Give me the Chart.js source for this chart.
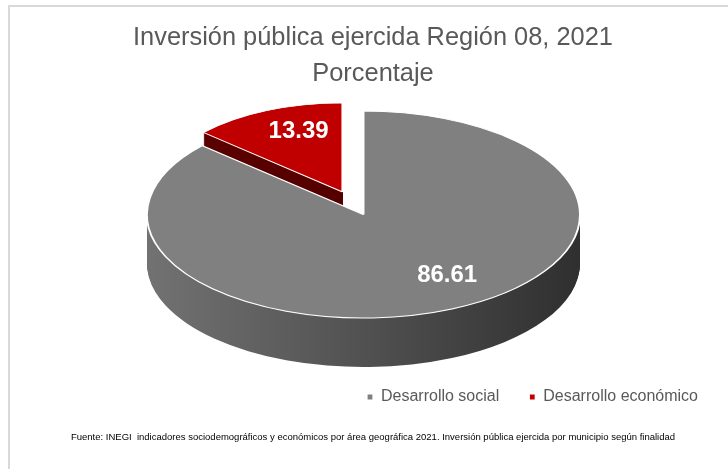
<!DOCTYPE html>
<html>
<head>
<meta charset="utf-8">
<script src="https://cdn.jsdelivr.net/npm/chart.js@4.4.1/dist/chart.umd.min.js"></script>
<style>
  html, body { margin: 0; padding: 0; background: #ffffff; }
  #wrap { width: 728px; height: 469px; position: relative; }
</style>
</head>
<body>
<div id="wrap"><canvas id="c" width="728" height="469"></canvas></div>
<script>
// ---- data ----
const categories = ['Desarrollo social', 'Desarrollo económico'];
const shares = [86.61, 13.39];
const shareLabels = ['86.61', '13.39'];
const explodeFractions = [0, 0.24];
const titleLines = ['Inversión pública ejercida Región 08, 2021', 'Porcentaje'];
const sourceNote = 'Fuente: INEGI  indicadores sociodemográficos y económicos por área geográfica 2021. Inversión pública ejercida por municipio según finalidad';

// ---- styles ----
const TOP_COLORS = ['#808080', '#c00000'];
const SIDE_COLORS = [['#727272', '#515151', '#2f2f2f'], ['#5e0000', '#4a0000']];
const ELLIPSE_RX = 216.5, ELLIPSE_RY = 103.5, DEPTH = 49;
const SHIFT_X = -9.5, SHIFT_Y = -11;
const BACK_PERSPECTIVE = 0.86; // exploded (back) slice looks smaller in perspective
const LABEL_FX = 0.72, LABEL_FY = 0.64, LABEL_DX = 20;
const FONT = '"Liberation Sans", Arial, sans-serif';

const frame = {
  id: 'frame',
  beforeDraw(chart) {
    const ctx = chart.ctx;
    ctx.save();
    ctx.strokeStyle = '#d9d9d9';
    ctx.lineWidth = 2;
    ctx.strokeRect(9, 6, chart.width + 20, chart.height + 20);
    ctx.restore();
  }
};

const pie3d = {
  id: 'pie3d',
  beforeDatasetsDraw(chart) {
    const meta = chart.getDatasetMeta(0);
    const arcs = meta.data;
    if (!arcs.length) return false;
    const ctx = chart.ctx;
    const ds = chart.data.datasets[0];
    const ex = arcs[0].x, ey = arcs[0].y, R = arcs[0].outerRadius;
    const sx = ELLIPSE_RX / R, sy = ELLIPSE_RY / R;
    const cx = ex + SHIFT_X, cy = ey + SHIFT_Y;
    const mid = a => (a.startAngle + a.endAngle) / 2;
    const place = (i, dy) => {
      ctx.setTransform(sx, 0, 0, sy, cx - ex * sx, cy + dy - ey * sy);
      const e = ds.explode[i] || 0;
      const d = e * R;
      const m = mid(arcs[i]);
      ctx.translate(Math.cos(m) * d, Math.sin(m) * d);
      if (e > 0) {
        ctx.translate(ex, ey);
        ctx.scale(BACK_PERSPECTIVE, BACK_PERSPECTIVE);
        ctx.translate(-ex, -ey);
      }
    };
    const drawWith = (arc, opts) => {
      const w = Object.create(arc);
      w.options = Object.assign({}, arc.options, opts);
      arc.draw.call(w, ctx);
    };
    // back (exploded) slice first, then front slice
    const order = arcs.map((a, i) => i).sort((a, b) => (ds.explode[b] || 0) - (ds.explode[a] || 0));
    ctx.save();
    for (const i of order) {
      const stops = SIDE_COLORS[i];
      const g = ctx.createLinearGradient(ex - R, 0, ex + R, 0);
      stops.forEach((c, k) => g.addColorStop(k / (stops.length - 1), c));
      for (let d = DEPTH; d >= 1; d--) {
        ctx.save();
        place(i, d);
        drawWith(arcs[i], { backgroundColor: g, borderWidth: 0 });
        ctx.restore();
      }
    }
    for (const i of order) {
      ctx.save();
      place(i, 0);
      drawWith(arcs[i], {});
      ctx.restore();
    }
    ctx.restore();

    // value labels
    ctx.save();
    ctx.setTransform(1, 0, 0, 1, 0, 0);
    ctx.font = 'bold 24px ' + FONT;
    ctx.fillStyle = '#ffffff';
    ctx.textAlign = 'center';
    ctx.textBaseline = 'middle';
    arcs.forEach((a, i) => {
      const m = mid(a);
      const d = (ds.explode[i] || 0) * R;
      const px = Math.cos(m) * (d + LABEL_FX * R);
      const py = Math.sin(m) * (d + LABEL_FY * R);
      ctx.fillText(shareLabels[i], cx + px * sx + LABEL_DX, cy + py * sy);
    });
    ctx.restore();
    return false;
  }
};

new Chart(document.getElementById('c'), {
  type: 'pie',
  data: {
    labels: categories,
    datasets: [{
      data: shares,
      backgroundColor: TOP_COLORS,
      borderColor: '#ffffff',
      borderWidth: 1.2,
      explode: explodeFractions
    }]
  },
  options: {
    responsive: false,
    animation: false,
    events: [],
    layout: { padding: { left: 18, right: 0, top: 0, bottom: 0 } },
    plugins: {
      title: {
        display: true,
        text: titleLines,
        color: '#595959',
        font: { family: FONT, size: 25.4, weight: 'normal', lineHeight: 1.42 },
        padding: { top: 20, bottom: 0 }
      },
      subtitle: {
        display: true,
        position: 'bottom',
        text: sourceNote,
        color: '#000000',
        font: { family: FONT, size: 9.5, weight: 'normal', lineHeight: 1.2 },
        padding: { top: 16.3, bottom: 26.3 }
      },
      legend: {
        display: true,
        position: 'bottom',
        align: 'end',
        labels: {
          color: '#595959',
          font: { family: FONT, size: 16 },
          usePointStyle: true,
          pointStyle: 'rect',
          boxWidth: 6,
          boxHeight: 6,
          padding: 30
        }
      },
      tooltip: { enabled: false }
    }
  },
  plugins: [frame, pie3d]
});
</script>
</body>
</html>
